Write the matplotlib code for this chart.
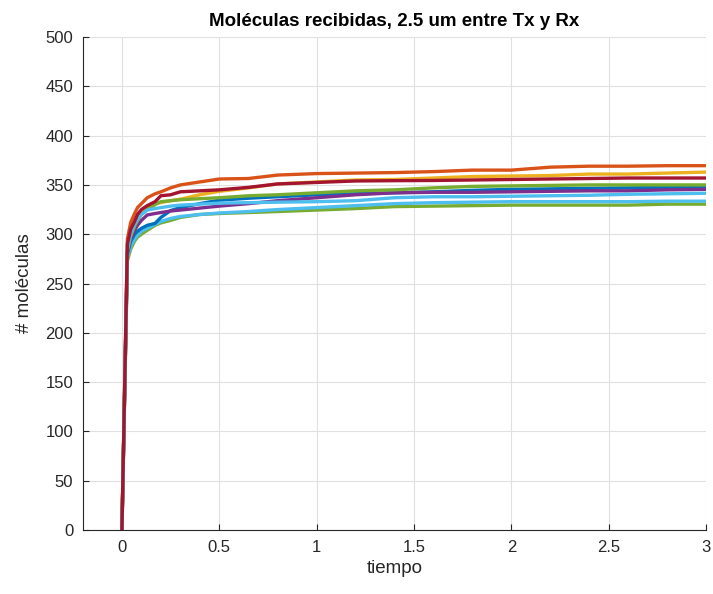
import matplotlib
matplotlib.use("Agg")
import matplotlib.pyplot as plt

# Time grid (shared by all series)
t = [0, 0.028, 0.045, 0.065, 0.08, 0.1, 0.13, 0.17, 0.2, 0.25, 0.3, 0.4, 0.5,
     0.65, 0.8, 1.0, 1.2, 1.4, 1.6, 1.8, 2.0, 2.2, 2.4, 2.6, 2.8, 3.0]

green_low = [0, 273, 285, 293, 297, 300, 304, 309, 311.5, 314, 317, 320, 321,
             322, 323, 324.5, 326, 328, 328.5, 329, 329.5, 329.5, 329.5, 329.5, 330.5, 330.5]
cyan_low = [0, 276, 288, 295, 299, 303, 306, 310, 313, 316, 318, 320, 321.5,
            323, 325, 327, 329, 331, 332, 332.5, 333, 333, 333, 333, 333.5, 333.5]
blue = [0, 280, 293, 300, 303, 306, 309, 311, 317, 324, 327, 331, 334.5,
        336.5, 338, 340, 341, 342, 343, 344.5, 345.5, 346, 346.5, 347, 347.5, 348]
orange = [0, 295, 312, 321, 327, 331, 337, 341, 343, 347, 350, 353, 356,
          356.5, 360, 361.5, 362, 362.5, 363.5, 365, 365, 368, 369, 369, 369.5, 369.5]
yellow = [0, 288, 303, 312, 318, 323, 328, 331, 332, 334, 335.5, 340, 343.5,
          347, 351, 353, 355, 355.5, 357, 358.5, 359, 359.5, 361, 361, 362, 363]
purple = [0, 282, 296, 304, 309, 314, 319.5, 321, 322, 323.5, 324.5, 326.5, 328.5,
          331, 334, 337, 340, 342, 342.5, 342.5, 343, 343.5, 344, 344, 345, 345.5]
green_up = [0, 283, 298, 308, 314, 320, 325, 330, 333, 334, 335, 336, 337,
            339, 340, 342, 344, 345, 347, 348.5, 349, 349.5, 350, 350, 350, 350]
cyan_up = [0, 285, 300, 310, 315, 320, 324.5, 326, 327, 328.5, 329.5, 330.5, 331.5,
           332, 332.5, 333, 334, 337, 338, 338, 338.5, 339, 339.5, 340.5, 341, 341.5]
darkred = [0, 290, 305, 313, 320, 325, 329, 333, 339, 340, 343, 344, 345,
           347.5, 351, 352.5, 354, 354.3, 354.5, 355, 355.5, 356, 356.5, 357, 357, 357]

series = [green_low, cyan_low, blue, orange, yellow, purple, green_up, cyan_up, darkred]
colors = ["#77AC30", "#4DBEEE", "#0072BD", "#D95319", "#EDB120", "#7E2F8E",
          "#77AC30", "#4DBEEE", "#A2142F"]

xticks = [0, 0.5, 1, 1.5, 2, 2.5, 3]
yticks = list(range(0, 501, 50))

plt.rcParams['font.family'] = ['Liberation Sans', 'DejaVu Sans']

fig = plt.figure(figsize=(7.13, 5.94), dpi=100)
ax = fig.add_axes([0.1164, 0.1077, 0.8738, 0.830])

for s, c in zip(series, colors):
    ax.plot(t, s, color=c, lw=2.4, solid_joinstyle='miter')

ax.set_xlim(-0.2, 3)
ax.set_ylim(0, 500)
ax.set_xticks(xticks)
ax.set_xticklabels([f"{v:g}" for v in xticks])
ax.set_yticks(yticks)
ax.grid(True, color="#e0e0e0", lw=0.8)
ax.set_axisbelow(True)
for side in ("top", "right"):
    ax.spines[side].set_visible(False)
for side in ("left", "bottom"):
    ax.spines[side].set_color("#262626")
    ax.spines[side].set_linewidth(0.8)
ax.tick_params(direction="in", length=4, width=0.8, colors="#262626",
               labelsize=12, pad=7)

ax.set_title("Moléculas recibidas, 2.5 um entre Tx y Rx", fontsize=13.5,
             fontweight="bold", pad=8)
ax.set_xlabel("tiempo", fontsize=13.5, color="#262626", labelpad=4)
ax.set_ylabel("# moléculas", fontsize=13.5, color="#262626", labelpad=9)

fig.savefig("out.png", dpi=100)
